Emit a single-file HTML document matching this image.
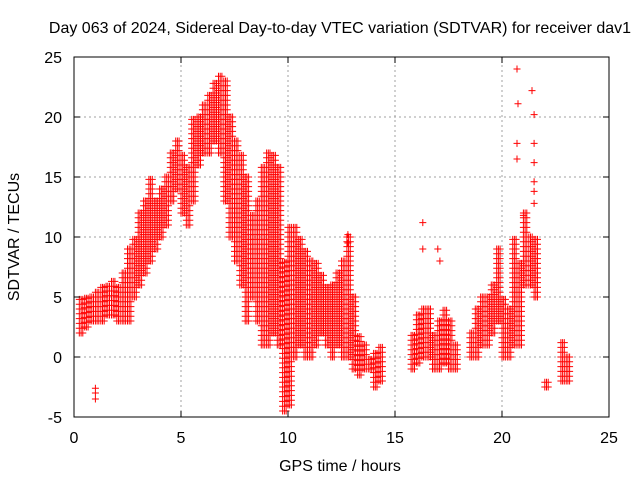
<!DOCTYPE html>
<html><head><meta charset="utf-8"><style>
body{margin:0;background:#fff}
svg{display:block;font-family:"Liberation Sans",sans-serif}
</style></head><body>
<svg id="chart" width="640" height="480" xmlns="http://www.w3.org/2000/svg">
<text x="340" y="33" font-size="16" text-anchor="middle">Day 063 of 2024, Sidereal Day-to-day VTEC variation (SDTVAR) for receiver dav1</text>
<text x="340" y="471" font-size="16" text-anchor="middle">GPS time / hours</text>
<text transform="translate(19,237) rotate(-90)" font-size="16" text-anchor="middle">SDTVAR / TECUs</text>
<g id="grid"></g>
<g id="marks"></g>
<rect x="74" y="57" width="535" height="360" fill="none" stroke="#000" stroke-width="1"/>
<g id="ticks"></g>
</svg>
<script>
const xTicks=[0,5,10,15,20,25];
const yTicks=[-5,0,5,10,15,20,25];
const times=[0.25,0.5,0.75,1.0,1.25,1.5,1.75,2.0,2.25,2.5,2.75,3.0,3.25,3.5,3.75,4.0,4.25,4.5,4.75,5.0,5.25,5.5,5.75,6.0,6.25,6.5,6.75,7.0,7.25,7.5,7.75,8.0,8.25,8.5,8.75,9.0,9.25,9.5,9.75,10.0,10.25,10.5,10.75,11.0,11.25,11.5,11.75,12.0,12.25,12.5,12.75,13.0,13.25,13.5,13.75,14.0,14.25,15.75,16.0,16.25,16.5,16.75,17.0,17.25,17.5,17.75,18.5,18.75,19.0,19.25,19.5,19.75,20.0,20.25,20.5,20.75,21.0,21.25,21.5,22.0,22.75,23.0];
const lowVals=[2,2.5,3,3,3,3.5,3.5,3,3,3,5,6,7,8,9,10,11,13,14,12,11,13,16,17,17,18,17,13,10,8,6,3,5,3,1,1,2,1,-4.5,-4,0,1,0,0,1,2,1,0,1,0,0,-1,-1.5,-1,-1,-2.5,-2,-1,-0.5,0,0,-1,-1,-0.5,-1,-1,0,0,1,1,2,3,0,0,1,1,6,6,5,-2.5,-2,-2];
const highVals=[5,5,5,5.5,6,6,6.5,6,7,9,10,12,13,15,13,14,15,17,18,17,16,20,20,21,22,23,23.5,23,20,18,17,15,12,13,16,17,17,16,8,11,11,10,9,8,8,7,6,6,7,8,10,5,2,1,0,0.5,1,2,3.5,4,4,2,3,4,3,1,2,4,5,5,6,9,5,4,10,8,12,10,10,-2,1.5,0];
const outlierTimes=[1.0,1.0,1.0,16.3,16.3,17.0,17.1,20.7,20.7,20.7,20.75,21.0,21.4,21.5,21.5,21.5,21.5,21.5,21.5,12.8,12.8];
const outlierVals=[-3.5,-3,-2.6,11.2,9,9,8,24,17.8,16.5,21.1,11.8,22.2,20.2,17.8,16.2,14.6,13.8,12.8,10.2,9.5];
const X0=74,X1=609,Y0=417,Y1=57;
const sx=v=>X0+(v-0)/(25-0)*(X1-X0);
const sy=v=>Y0-(v+5)/30*(Y0-Y1);
const NS="http://www.w3.org/2000/svg";
const grid=document.getElementById('grid'),ticks=document.getElementById('ticks'),marks=document.getElementById('marks');
function ln(p,x1,y1,x2,y2,st,dash){const l=document.createElementNS(NS,'line');l.setAttribute('x1',x1);l.setAttribute('y1',y1);l.setAttribute('x2',x2);l.setAttribute('y2',y2);l.setAttribute('stroke',st);if(dash)l.setAttribute('stroke-dasharray',dash);p.appendChild(l);return l;}
xTicks.forEach(v=>{const x=sx(v);
 if(v>0&&v<25){const g=ln(grid,x,Y0,x,Y1,'#a0a0a0','2,3');
 
 }
 ln(ticks,x,Y0,x,Y0-6,'#000');ln(ticks,x,Y1,x,Y1+6,'#000');
 const t=document.createElementNS(NS,'text');t.setAttribute('x',x);t.setAttribute('y',443);t.setAttribute('font-size','16');t.setAttribute('text-anchor','middle');t.textContent=v;
 
 
 ticks.appendChild(t);});
yTicks.forEach(v=>{const y=sy(v);
 if(v>-5&&v<25){const g=ln(grid,X0,y,X1,y,'#a0a0a0','2,3');
 
 }
 ln(ticks,X0,y,X0+6,y,'#000');ln(ticks,X1,y,X1-6,y,'#000');
 const t=document.createElementNS(NS,'text');t.setAttribute('x',62);t.setAttribute('y',y+6);t.setAttribute('font-size','16');t.setAttribute('text-anchor','end');t.textContent=v;
 
 
 ticks.appendChild(t);});
let d='';
const plus=(x,y)=>{d+=`M${(x-3.5).toFixed(1)} ${y.toFixed(1)}h7M${x.toFixed(1)} ${(y-3.5).toFixed(1)}v7`;};
times.forEach((t,i)=>{const lo=lowVals[i],hi=highVals[i];
 [0,0.08,0.16].forEach(off=>{
  const x=sx(t+off);
  for(let v=lo;v<=hi+0.001;v+=0.4){plus(x,sy(Math.min(v,hi)));}
 });});
outlierTimes.forEach((t,i)=>plus(sx(t),sy(outlierVals[i])));
const p=document.createElementNS(NS,'path');p.setAttribute('d',d);p.setAttribute('stroke','#f00');p.setAttribute('stroke-width','1');p.setAttribute('fill','none');


marks.appendChild(p);
</script>
</body></html>
